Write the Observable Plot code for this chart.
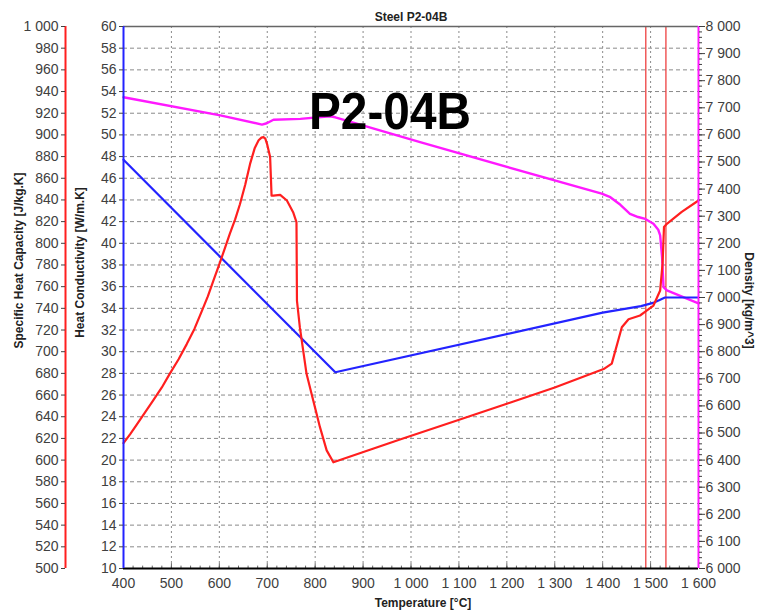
<!DOCTYPE html>
<html>
<head>
<meta charset="utf-8">
<script src="https://cdn.jsdelivr.net/npm/d3@7"></script>
<script src="https://cdn.jsdelivr.net/npm/@observablehq/plot@0.6"></script>
<style>
  html, body { margin: 0; padding: 0; background: #fff; }
  #chart { width: 758px; height: 615px; }
</style>
</head>
<body>
<div id="chart"></div>
<script>
// ---- Data ----
const chartTitle = "Steel P2-04B";
const bigLabel = "P2-04B";
const xLabel = "Temperature [°C]";
const cpLabel = "Specific Heat Capacity [J/kg.K]";
const kLabel = "Heat Conductivity [W/m.K]";
const rhoLabel = "Density [kg/m^3]";

// Specific heat capacity [J/kg.K]
const cpT = [400, 414, 428, 445, 462, 480, 497, 515, 532, 548, 563, 576, 588, 601, 612, 622, 633, 643, 654, 664, 674, 682, 688, 692, 696, 700, 706, 709, 713, 727, 741, 754, 761, 762, 768, 782, 796, 810, 824, 838, 977, 1099, 1200, 1300, 1402, 1419, 1440, 1454, 1478, 1489, 1506, 1520, 1525, 1528, 1534, 1565, 1600];
const cpV = [615.6, 624, 633, 644, 655, 667, 680, 693, 707, 721, 737, 751, 766, 782, 796, 809, 822, 836, 854, 873, 888, 895, 897.5, 898, 896.5, 891, 879.5, 844, 844, 844.7, 839.5, 828.7, 819.5, 747, 722.6, 679.6, 655, 630.4, 609, 598, 619, 637, 652, 667, 684, 689, 722.6, 730, 733.4, 737, 742.6, 756.5, 781, 815, 818, 829, 839.5];

// Heat conductivity [W/m.K]
const kT = [400, 842, 1400, 1480, 1505, 1520, 1530, 1600];
const kV = [47.7, 28.1, 33.6, 34.2, 34.5, 34.8, 35.0, 35.0];

// Density [kg/m^3]
const rhoT = [400, 602, 689, 699, 713, 769, 831, 842, 1019, 1398, 1416, 1437, 1457, 1474, 1489, 1506, 1516, 1520, 1524, 1527, 1534, 1600];
const rhoV = [7739, 7672, 7638, 7643, 7656, 7659, 7669, 7665, 7573, 7383, 7370, 7342, 7309, 7297, 7290, 7272, 7250, 7229, 7149, 7038, 7026, 6978];

// Phase transition markers (solidus / liquidus) [°C]
const phaseT = [1490, 1532];

// Tick values
const xTicks = d3.range(400, 1601, 100);
const xMinor = d3.range(400, 1601, 20);
const kTicks = d3.range(10, 61, 2);
const cpTicks = d3.range(500, 1001, 20);
const rhoTicks = d3.range(6000, 8001, 100);
const rhoMinor = d3.range(6000, 8001, 20);

// ---- helpers: map secondary axes onto the conductivity scale ----
const cpToY = cp => 10 + (cp - 500) / 10;
const yToCp = y => 500 + (y - 10) * 10;
const rhoToY = r => 10 + (r - 6000) / 40;
const yToRho = y => 6000 + (y - 10) * 40;
const fmt = v => d3.format(",")(Math.round(v)).replace(/,/g, "\u00a0");

const cpData = cpT.map((t, i) => ({T: t, v: cpV[i]}));
const kData = kT.map((t, i) => ({T: t, v: kV[i]}));
const rhoData = rhoT.map((t, i) => ({T: t, v: rhoV[i]}));

const RED = "#ff1f1f", BLUE = "#2323ff", MAG = "#ff19ff";
const titleFont = {fontWeight: "bold", fontSize: 12, fill: "#222", textAnchor: "middle"};

const svg = Plot.plot({
  width: 758,
  height: 615,
  marginLeft: 123,
  marginRight: 60,
  marginTop: 26,
  marginBottom: 47,
  x: {domain: [400, 1600]},
  y: {domain: [10, 60]},
  style: {fontFamily: "'Liberation Sans', Arial, sans-serif", fontSize: "14px", color: "#404040", background: "#fff"},
  marks: [
    Plot.gridX(xTicks.slice(1, -1), {stroke: "#8a8a8a", strokeOpacity: 1, strokeDasharray: "2,3"}),
    Plot.gridY(kTicks.slice(1, -1), {stroke: "#8a8a8a", strokeOpacity: 1, strokeDasharray: "4,3"}),
    Plot.ruleX(phaseT, {stroke: "#ee4040", strokeWidth: 1.3}),
    Plot.line(rhoData, {x: "T", y: d => rhoToY(d.v), stroke: MAG, strokeWidth: 2.4, strokeLinejoin: "round"}),
    Plot.line(kData, {x: "T", y: "v", stroke: BLUE, strokeWidth: 2.2, strokeLinejoin: "round"}),
    Plot.line(cpData, {x: "T", y: d => cpToY(d.v), stroke: RED, strokeWidth: 2.2, strokeLinejoin: "round"}),
    // frame lines
    Plot.ruleY([60], {stroke: "#666", strokeWidth: 1.5}),
    Plot.ruleX(xMinor, {y1: 10, y2: 10.22, stroke: "#666"}),
    Plot.ruleX(xTicks, {y1: 10, y2: 10.45, stroke: "#666"}),
    Plot.ruleY([10], {stroke: "#000", strokeWidth: 2}),
    Plot.ruleX([400], {stroke: BLUE, strokeWidth: 2}),
    Plot.ruleX([1600], {stroke: MAG, strokeWidth: 2}),
    Plot.ruleX([400], {dx: -58, stroke: RED, strokeWidth: 2}),
    // axes
    Plot.axisY(kTicks, {anchor: "left", tickSize: 4, tickPadding: 3, tickFormat: d => d, label: null}),
    Plot.axisY(cpTicks.map(cpToY), {anchor: "left", dx: -58, tickSize: 4, tickPadding: 3, tickFormat: y => fmt(yToCp(y)), label: null}),
    Plot.axisY(rhoMinor.map(rhoToY), {anchor: "right", tickSize: 3, tickFormat: () => "", label: null}),
    Plot.axisY(rhoTicks.map(rhoToY), {anchor: "right", tickSize: 6, tickPadding: 1, tickFormat: y => fmt(yToRho(y)), label: null}),
    Plot.axisX(xTicks, {anchor: "bottom", tickSize: 0, tickPadding: 10, tickFormat: fmt, label: null}),
    // titles
    Plot.text([chartTitle], {frameAnchor: "top", dy: -14, text: d => d, ...titleFont}),
    Plot.text([bigLabel], {frameAnchor: "top", dx: -21, dy: 66, text: d => d, fontWeight: "bold", fontSize: 52, fill: "#000"}),
    Plot.text([xLabel], {frameAnchor: "bottom", dx: 12, dy: 38, text: d => d, ...titleFont}),
    Plot.text([cpLabel], {frameAnchor: "left", dx: -104, dy: -37, rotate: -90, text: d => d, ...titleFont}),
    Plot.text([kLabel], {frameAnchor: "left", dx: -43, dy: -35, rotate: -90, text: d => d, ...titleFont}),
    Plot.text([rhoLabel], {frameAnchor: "right", dx: 50, dy: 3, rotate: 90, text: d => d, ...titleFont})
  ]
});

svg.querySelectorAll("text").forEach(t => {
  if (t.textContent === bigLabel) {
    t.setAttribute("textLength", "162");
    t.setAttribute("lengthAdjust", "spacingAndGlyphs");
  }
});

document.getElementById("chart").appendChild(svg);
</script>
</body>
</html>
